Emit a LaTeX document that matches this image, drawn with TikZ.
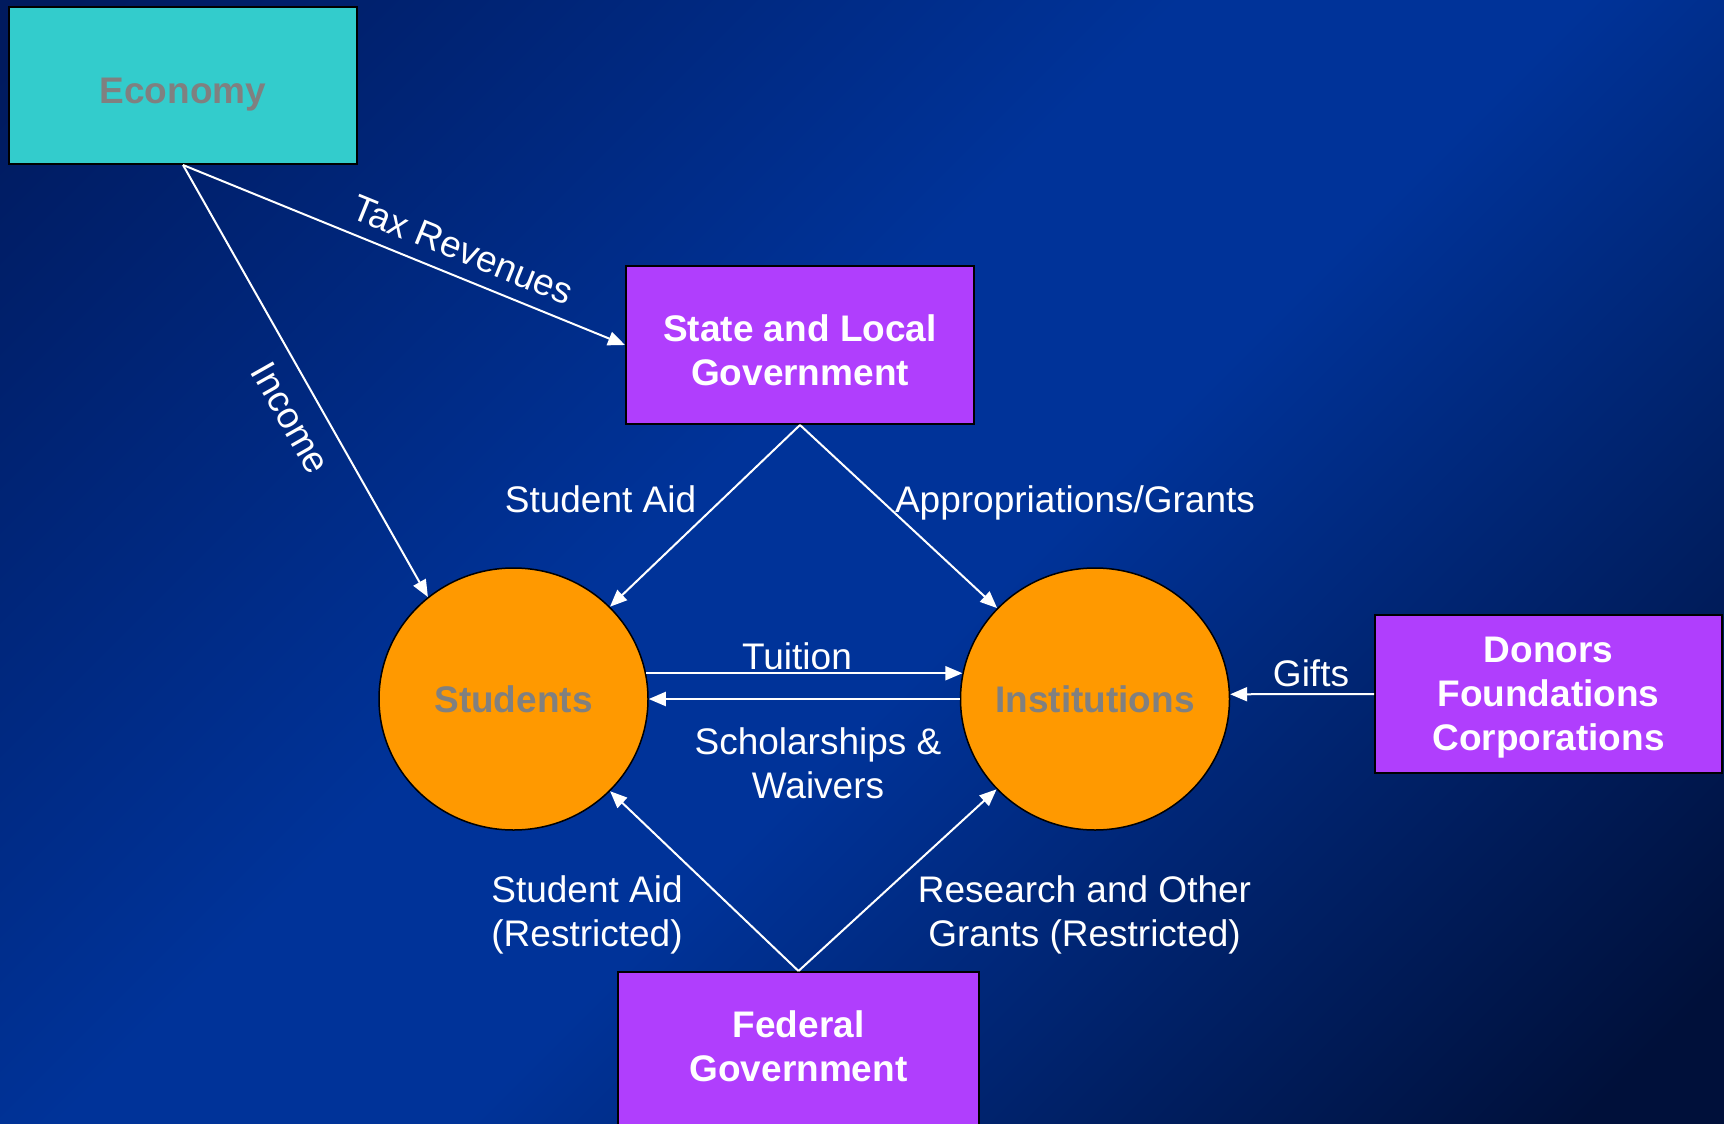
\documentclass[tikz,border=0pt]{standalone}
\usepackage{fontspec}
\setmainfont{Liberation Sans}
\usetikzlibrary{arrows.meta,shapes.geometric}
\definecolor{bgTL}{HTML}{001A5E}
\definecolor{bgMid}{HTML}{003399}
\definecolor{bgBR}{HTML}{00103A}
\definecolor{econfill}{HTML}{33CCCC}
\definecolor{boxpurple}{HTML}{B03EFD}
\definecolor{circorange}{HTML}{FF9900}
\definecolor{labgray}{HTML}{808080}
\pgfdeclareverticalshading{bgshade}{100bp}{color(0bp)=(bgBR); color(18bp)=(bgBR); color(46bp)=(bgMid); color(56bp)=(bgMid); color(84bp)=(bgTL); color(100bp)=(bgTL)}
\newcommand\diafont{\fontsize{37}{44}\selectfont}
\tikzset{
  flow/.style={draw=white, line width=2pt, -{Triangle[length=17pt,width=14pt]}},
  lab/.style={text=white, font=\diafont, inner sep=0pt},
  boxbase/.style={rectangle, draw=black, line width=2pt, inner sep=0pt, font=\diafont\bfseries, align=center},
  econbox/.style={boxbase, fill=econfill, text=labgray},
  govbox/.style={boxbase, fill=boxpurple, text=white},
  party/.style={ellipse, draw=black, line width=1.5pt, fill=circorange, inner sep=0pt, minimum width=269pt, minimum height=262pt},
  partytext/.style={text=labgray, font=\diafont\bfseries, inner sep=0pt, text depth=0pt},
}
\begin{document}
\begin{tikzpicture}[x=1pt,y=-1pt]
\fill[shading=bgshade, shading angle=45] (0,0) rectangle (1724,1124);
\useasboundingbox (0,0) rectangle (1724,1124);
\clip (0,0) rectangle (1724,1124);

\node[econbox, minimum width=348pt, minimum height=157pt, text height=35pt, text depth=0pt] (economy) at (183,85.5) {Economy};
\node[govbox, minimum width=348pt, minimum height=158pt, text height=80pt, text depth=0pt] (state) at (800,345) {State and Local\\Government};
\node[party, label={[partytext]center:Students}] (students) at (513.5,699) {};
\node[party, label={[partytext]center:Institutions}] (institutions) at (1095,699) {};
\node[govbox, minimum width=347pt, minimum height=158pt, text depth=0pt] (donors) at (1548.5,694) {Donors\\Foundations\\Corporations};
\node[govbox, minimum width=361pt, minimum height=160pt, text depth=11pt] (federal) at (798.5,1052) {Federal\\Government};

\draw[flow] (economy.south) -- node[lab, sloped, above=13pt, pos=0.61] (lTax) {Tax Revenues} (state.west);
\draw[flow] (economy.south) -- node[lab, sloped, below=17pt, pos=0.55] (lIncome) {Income} (students.130);
\draw[flow] (state.south) -- (students);
\draw[flow] (state.south) -- (institutions);
\draw[flow] (students.11) -- (institutions.169);
\draw[flow] (institutions.west) -- (students.east);
\draw[flow] (donors.west) -- (institutions.2);
\draw[flow] (federal.north) -- (students);
\draw[flow] (federal.north) -- (institutions);

\node[lab, anchor=base] (lSA) at (600.5,512) {Student Aid};
\node[lab, anchor=base] (lAG) at (1075,512) {Appropriations/Grants};
\node[lab, anchor=base] (lTu) at (797,669) {Tuition};
\node[lab, anchor=north, align=center] (lSW) at (818,727) {Scholarships \&\\Waivers};
\node[lab, anchor=base] (lGi) at (1311,686) {Gifts};
\node[lab, anchor=north, align=center] (lSAR) at (587,875) {Student Aid\\(Restricted)};
\node[lab, anchor=north, align=center] (lRes) at (1084.5,875) {Research and Other\\Grants (Restricted)};
\end{tikzpicture}
\end{document}
